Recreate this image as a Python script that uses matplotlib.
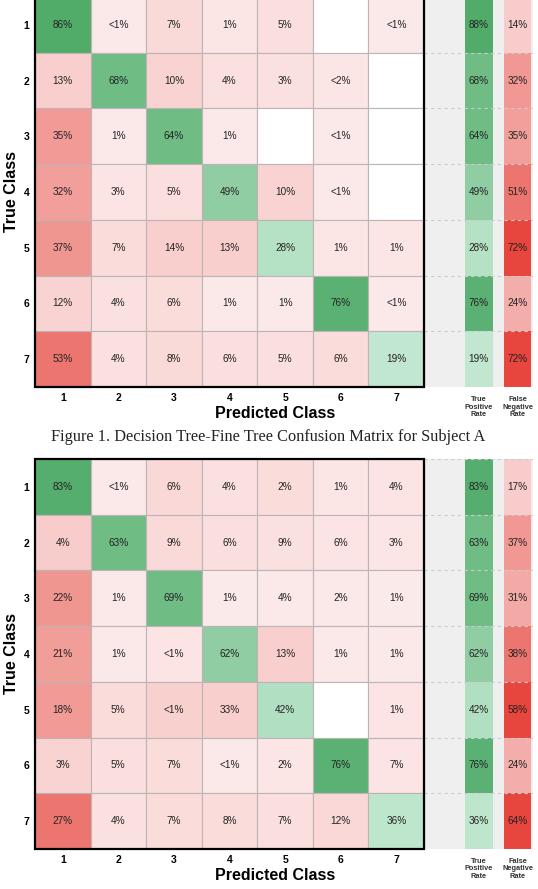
import numpy as np
import matplotlib
matplotlib.use('Agg')
import matplotlib.pyplot as plt
from matplotlib.colors import LinearSegmentedColormap, Normalize
from matplotlib.patches import Rectangle

W, H = 538, 889
plt.rcParams['font.family'] = ['Liberation Sans', 'DejaVu Sans']

classes = ['1', '2', '3', '4', '5', '6', '7']

# Subject A - cell text as printed ('' = empty cell)
a_text = [
    ['86%', '<1%', '7%', '1%', '5%', '', '<1%'],
    ['13%', '68%', '10%', '4%', '3%', '<2%', ''],
    ['35%', '1%', '64%', '1%', '', '<1%', ''],
    ['32%', '3%', '5%', '49%', '10%', '<1%', ''],
    ['37%', '7%', '14%', '13%', '28%', '1%', '1%'],
    ['12%', '4%', '6%', '1%', '1%', '76%', '<1%'],
    ['53%', '4%', '8%', '6%', '5%', '6%', '19%'],
]
# colour strength (0 = white)
a_shade = [
    [88, 3, 9, 4, 7, 0, 3],
    [14, 70, 12, 6, 6, 4, 0],
    [36, 3, 70, 3, 0, 3, 0],
    [34, 5, 7, 50, 12, 3, 0],
    [38, 8, 14, 14, 28, 4, 4],
    [12, 6, 8, 3, 3, 82, 3],
    [52, 6, 9, 7, 7, 8, 20],
]
a_tpr = ['88%', '68%', '64%', '49%', '28%', '76%', '19%']
a_tpr_shade = [88, 70, 70, 50, 28, 82, 20]
a_fnr = ['14%', '32%', '35%', '51%', '72%', '24%', '72%']
a_fnr_shade = [15, 37, 34, 52, 72, 28, 72]

# second subject (lower figure)
b_text = [
    ['83%', '<1%', '6%', '4%', '2%', '1%', '4%'],
    ['4%', '63%', '9%', '6%', '9%', '6%', '3%'],
    ['22%', '1%', '69%', '1%', '4%', '2%', '1%'],
    ['21%', '1%', '<1%', '62%', '13%', '1%', '1%'],
    ['18%', '5%', '<1%', '33%', '42%', '', '1%'],
    ['3%', '5%', '7%', '<1%', '2%', '76%', '7%'],
    ['27%', '4%', '7%', '8%', '7%', '12%', '36%'],
]
b_shade = [
    [85, 3, 10, 6, 8, 4, 5],
    [15, 70, 9, 7, 6, 5, 4],
    [38, 3, 70, 2, 3, 3, 2],
    [35, 3, 5, 50, 14, 3, 3],
    [36, 8, 13, 14, 30, 0, 5],
    [12, 7, 8, 3, 4, 82, 5],
    [52, 6, 8, 8, 7, 10, 22],
]
b_tpr = ['83%', '63%', '69%', '62%', '42%', '76%', '36%']
b_tpr_shade = [85, 70, 70, 50, 30, 82, 22]
b_fnr = ['17%', '37%', '31%', '38%', '58%', '24%', '64%']
b_fnr_shade = [15, 37, 30, 52, 72, 28, 72]

caption = 'Figure 1. Decision Tree-Fine Tree Confusion Matrix for Subject A'

greens = LinearSegmentedColormap.from_list('g', ['#e3f9ee', '#51ac6a'])
reds = LinearSegmentedColormap.from_list('r', ['#fcefef', '#e6463d'])
g_norm = Normalize(0, 88)
r_norm = Normalize(0, 72)

TXT = '#232323'


def fx(px):
    return px / W


def fy(py):
    return 1 - py / H


def draw_matrix(top, bottom, text, shade, tpr, tpr_shade, fnr, fnr_shade):
    """One confusion chart with the TPR / FNR summary on the right"""
    ax = fig.add_axes([fx(35), fy(bottom), fx(533) - fx(35), (bottom - top) / H])
    ax.set_xlim(0, 8.96)
    ax.set_ylim(7, 0)
    for s in ax.spines.values():
        s.set_visible(False)

    # summary panel background
    ax.add_patch(Rectangle((7, 0), 1.96, 7, fc='#efefef', ec='none', zorder=0))

    for i in range(7):
        for j in range(7):
            v = shade[i][j]
            if v == 0:
                c = 'white'
            elif i == j:
                c = greens(g_norm(v))
            else:
                c = reds(r_norm(v))
            ax.add_patch(Rectangle((j, i), 1, 1, fc=c, ec='#bdb5b5', lw=0.8, zorder=1))
            if text[i][j]:
                ax.text(j + 0.5, i + 0.5, text[i][j], ha='center', va='center',
                        fontsize=7.2, color=TXT, zorder=3)

        ax.add_patch(Rectangle((7.73, i), 0.51, 1, fc=greens(g_norm(tpr_shade[i])), ec='none', zorder=1))
        ax.text(7.985, i + 0.5, tpr[i], ha='center', va='center', fontsize=7.2, color=TXT, zorder=3)
        ax.add_patch(Rectangle((8.44, i), 0.48, 1, fc=reds(r_norm(fnr_shade[i])), ec='none', zorder=1))
        ax.text(8.68, i + 0.5, fnr[i], ha='center', va='center', fontsize=7.2, color=TXT, zorder=3)

    ax.hlines(np.arange(8), 7, 8.96, colors='#cccccc', linestyles=(0, (3, 3)), lw=0.8, zorder=2)
    ax.add_patch(Rectangle((0, 0), 7, 7, fill=False, ec='black', lw=1.6, zorder=4, clip_on=False))

    ax.set_xticks(np.arange(7) + 0.5, classes)
    ax.set_yticks(np.arange(7) + 0.5, classes)
    ax.tick_params(length=0, labelsize=7.5, pad=4)
    for t in ax.get_xticklabels() + ax.get_yticklabels():
        t.set_fontweight('bold')

    fig.text(fx(275), fy(bottom + 27), 'Predicted Class', ha='center', va='center',
             fontsize=11.5, fontweight='bold')
    fig.text(fx(12), fy((top + bottom) / 2), 'True Class', ha='center', va='center',
             rotation=90, fontsize=11.5, fontweight='bold')
    fig.text(fx(479), fy(bottom + 20), 'True\nPositive\nRate', ha='center', va='center',
             fontsize=5.3, fontweight='bold', linespacing=1.05, color='#333333')
    fig.text(fx(518), fy(bottom + 20), 'False\nNegative\nRate', ha='center', va='center',
             fontsize=5.3, fontweight='bold', linespacing=1.05, color='#333333')


fig = plt.figure(figsize=(W / 100, H / 100), dpi=100)

draw_matrix(-3, 387, a_text, a_shade, a_tpr, a_tpr_shade, a_fnr, a_fnr_shade)
fig.text(fx(268), fy(437), caption, ha='center', va='center', fontsize=11.8,
         family='Liberation Serif', color='#222222')
draw_matrix(459, 849, b_text, b_shade, b_tpr, b_tpr_shade, b_fnr, b_fnr_shade)

fig.savefig('out.png', dpi=100)
